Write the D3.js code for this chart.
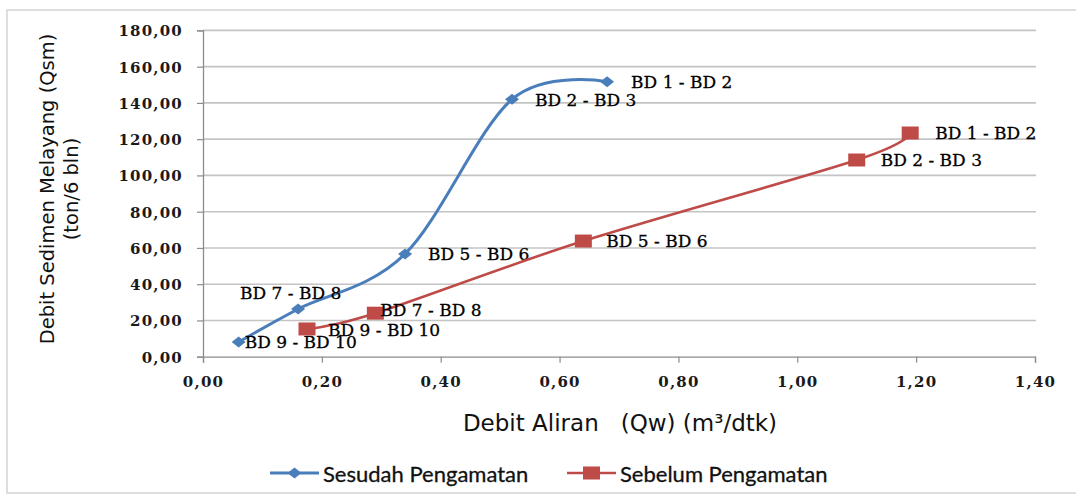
<!DOCTYPE html>
<html>
<head>
<meta charset="utf-8">
<script src="https://cdn.jsdelivr.net/npm/d3@7"></script>
<style>
  body { margin: 0; background: #fff; }
  svg { display: block; }
</style>
</head>
<body>
<div id="chart"></div>
<script>
// Data (Qw in m³/dtk, Qsm in ton/6 bln)
const segments = ["BD 9 - BD 10", "BD 7 - BD 8", "BD 5 - BD 6", "BD 2 - BD 3", "BD 1 - BD 2"];
const sesudahQw = [0.06, 0.16, 0.34, 0.52, 0.68];
const sesudahQsm = [8.1, 26.3, 56.7, 142.0, 151.7];
const sebelumQw = [0.175, 0.29, 0.64, 1.10, 1.19];
const sebelumQsm = [15.3, 24.0, 63.8, 108.5, 123.4];
const seriesNames = ["Sesudah Pengamatan", "Sebelum Pengamatan"];
const xTickValues = [0, 0.2, 0.4, 0.6, 0.8, 1.0, 1.2, 1.4];
const yTickValues = [0, 20, 40, 60, 80, 100, 120, 140, 160, 180];
const xTitle = "Debit Aliran   (Qw) (m³/dtk)";
const yTitle = ["Debit Sedimen Melayang (Qsm)", "(ton/6 bln)"];

const width = 1076, height = 496;
const plot = { left: 203, right: 1035, top: 30.4, bottom: 356.7 };

const blue = "#4A7EBB", red = "#BE4B48";

// comma as decimal separator
const idLocale = d3.formatLocale({ decimal: ",", thousands: ".", grouping: [3], currency: ["Rp", ""] });
const fmt = idLocale.format(".2f");

const svg = d3.select("#chart").append("svg")
  .attr("width", width)
  .attr("height", height);

// chart frame
svg.append("rect")
  .attr("x", 7).attr("y", 10)
  .attr("width", 1100).attr("height", 483)
  .attr("fill", "#fff")
  .attr("stroke", "#d4d4d4")
  .attr("stroke-width", 1.5);

const x = d3.scaleLinear().domain([0, 1.4]).range([plot.left, plot.right]);
const y = d3.scaleLinear().domain([0, 180]).range([plot.bottom, plot.top]);

// gridlines
svg.append("g")
  .selectAll("line")
  .data(yTickValues.filter(d => d > 0))
  .join("line")
  .attr("x1", plot.left).attr("x2", plot.right + 1)
  .attr("y1", d => y(d)).attr("y2", d => y(d))
  .attr("stroke", "#c4c4c4")
  .attr("stroke-width", 1.6);

// axes
const yAxis = svg.append("g")
  .attr("transform", `translate(${plot.left},0)`)
  .call(d3.axisLeft(y).tickValues(yTickValues).tickFormat(fmt).tickSize(6).tickPadding(14));

const xAxis = svg.append("g")
  .attr("transform", `translate(0,${plot.bottom})`)
  .call(d3.axisBottom(x).tickValues(xTickValues).tickFormat(fmt).tickSize(6).tickPadding(14));

[xAxis, yAxis].forEach(a => {
  a.select(".domain").attr("stroke", "#8c8c8c").attr("stroke-width", 1.3);
  a.selectAll(".tick line").attr("stroke", "#8c8c8c").attr("stroke-width", 1.2);
  a.selectAll("text")
    .attr("fill", "#1a1a1a")
    .style("font-family", "'DejaVu Serif', serif")
    .style("font-weight", "bold")
    .style("font-size", "15px")
    .style("letter-spacing", "1.2px");
});
yAxis.selectAll("text").attr("dy", "0.36em");
xAxis.selectAll("text").attr("dy", "0.71em");

// axis titles
svg.append("text")
  .attr("x", 620).attr("y", 423)
  .attr("text-anchor", "middle")
  .attr("dominant-baseline", "central")
  .attr("fill", "#111")
  .style("font-family", "'DejaVu Sans', sans-serif")
  .style("font-size", "23px")
  .style("white-space", "pre")
  .text(xTitle);

svg.append("g")
  .attr("transform", "translate(47,189) rotate(-90)")
  .selectAll("text")
  .data(yTitle)
  .join("text")
  .attr("x", 0)
  .attr("y", (d, i) => i * 24)
  .attr("text-anchor", "middle")
  .attr("dominant-baseline", "central")
  .attr("fill", "#111")
  .style("font-family", "'DejaVu Sans', sans-serif")
  .style("font-size", "19.5px")
  .text(d => d);

// series
const series = [
  { name: seriesNames[0], qw: sesudahQw, qsm: sesudahQsm, color: blue, marker: "diamond", width: 3 },
  { name: seriesNames[1], qw: sebelumQw, qsm: sebelumQsm, color: red, marker: "square", width: 2.6 }
];

// label placement tweaks (Excel moved a few labels to avoid overlap)
const labelNudge = {
  "Sesudah Pengamatan": [[6, 0], [-58, -16], [23, 0], [23, 1], [24, 0]],
  "Sebelum Pengamatan": [[21, 1], [5, -3], [23, 0], [24, 0], [25, 0]]
};

const line = d3.line()
  .x(d => x(d.qw))
  .y(d => y(d.qsm))
  .curve(d3.curveCardinal.tension(0));

function drawMarker(g, type, color) {
  if (type === "diamond") {
    g.append("path")
      .attr("d", "M-7,0L0,-5.5L7,0L0,5.5Z")
      .attr("fill", color);
  } else {
    g.append("rect")
      .attr("x", -8.5).attr("y", -6.5)
      .attr("width", 17).attr("height", 13)
      .attr("fill", color);
  }
}

series.forEach(s => {
  const pts = s.qw.map((q, i) => ({ qw: q, qsm: s.qsm[i], label: segments[i] }));

  svg.append("path")
    .datum(pts)
    .attr("d", line)
    .attr("fill", "none")
    .attr("stroke", s.color)
    .attr("stroke-width", s.width);

  pts.forEach((p, i) => {
    const g = svg.append("g").attr("transform", `translate(${x(p.qw)},${y(p.qsm)})`);
    drawMarker(g, s.marker, s.color);
    const [dx, dy] = labelNudge[s.name][i];
    g.append("text")
      .attr("x", dx).attr("y", dy)
      .attr("dominant-baseline", "central")
      .attr("fill", "#000")
      .attr("stroke", "#000")
      .attr("stroke-width", 0.3)
      .style("font-family", "'DejaVu Serif', serif")
      .style("font-size", "17px")
      .text(p.label);
  });
});

// legend
const legend = svg.append("g").attr("transform", "translate(0,473)");
const legendX = [270, 567];
series.forEach((s, i) => {
  const g = legend.append("g").attr("transform", `translate(${legendX[i]},0)`);
  g.append("line")
    .attr("x1", 0).attr("x2", 49)
    .attr("stroke", s.color)
    .attr("stroke-width", s.width);
  const m = g.append("g").attr("transform", "translate(24.5,0)");
  drawMarker(m, s.marker, s.color);
  g.append("text")
    .attr("x", 53)
    .attr("dominant-baseline", "central")
    .attr("fill", "#111")
    .attr("stroke", "#111")
    .attr("stroke-width", 0.3)
    .style("font-family", "Lato, sans-serif")
    .style("font-size", "22px")
    .text(s.name);
});
</script>
</body>
</html>
